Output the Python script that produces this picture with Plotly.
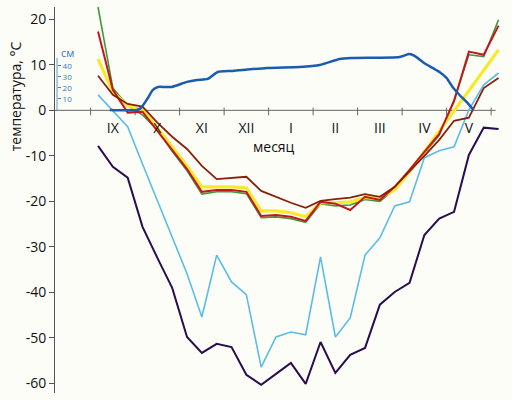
import plotly.graph_objects as go

# --- data -------------------------------------------------------------
months = ["IX", "X", "XI", "XII", "I", "II", "III", "IV", "V"]
month_centers = [1, 4, 7, 10, 13, 16, 19, 22, 25]          # in dekads
month_bounds = [-0.5, 2.5, 5.5, 8.5, 11.5, 14.5, 17.5, 20.5, 23.5, 26.5]
dekad = list(range(28))                                      # dekads from 1 Sep

green = [22.7, 4.9, 1.0, -1.0, -4.3, -9.0, -13.3, -18.4, -17.9, -17.9, -18.3, -23.6, -23.4, -23.8,
         -24.6, -20.5, -21.0, -20.8, -19.6, -20.0, -17.3, -13.3, -9.3, -5.5, 2.3, 12.2, 11.8, 19.9]
red = [17.3, 4.5, -0.5, -0.3, -4.5, -8.7, -12.9, -17.9, -17.5, -17.5, -17.9, -23.2, -23.0, -23.4,
       -24.3, -20.1, -20.5, -21.9, -19.0, -19.7, -16.8, -13.1, -9.1, -5.2, 2.0, 12.9, 12.2, 18.6]
yellow = [11.3, 4.0, 1.0, 0.1, -3.8, -8.0, -12.2, -16.8, -16.8, -16.8, -17.0, -22.1, -22.1, -22.5,
          -23.4, -20.3, -20.3, -20.1, -19.2, -19.2, -17.5, -13.5, -9.1, -4.5, -0.1, 4.3, 8.7, 13.3]
brown = [7.6, 3.4, 1.4, 0.8, -2.7, -5.8, -8.5, -12.2, -15.1, -14.8, -14.6, -17.7, -19.0, -20.3,
         -21.4, -19.9, -19.5, -19.2, -18.4, -19.0, -16.8, -13.5, -10.0, -6.5, -2.3, -1.6, 4.9, 7.1]
lightblue = [3.4, -0.1, -3.6, -11.8, -19.9, -27.8, -35.9, -45.4, -31.8, -37.7, -40.5, -56.4, -49.8, -48.7,
             -49.3, -32.2, -49.8, -45.6, -31.8, -28.0, -21.0, -20.1, -10.4, -8.9, -8.0, 0.1, 5.6, 8.2]
navy = [-7.8, -12.4, -14.8, -25.6, -32.4, -39.0, -49.8, -53.3, -51.3, -52.0, -58.1, -60.3, -57.9, -55.5,
        -60.1, -50.9, -57.7, -53.7, -52.2, -42.7, -39.9, -37.9, -27.4, -23.8, -22.3, -9.8, -3.8, -4.1]

snow_x = [0.8, 2.62, 2.89, 3.36, 3.70, 4.04, 4.51, 4.98, 5.99, 6.66, 7.40, 8.07, 9.08, 11.38, 13.60,
          14.95, 16.29, 17.17, 20.33, 21.00, 21.34, 22.0, 22.55, 23.02, 23.49, 23.90, 24.37, 24.84, 25.31]
snow_cm = [0, 0, 1.8, 10.9, 18.2, 20.9, 20.9, 20.9, 25.5, 27.3, 28.2, 34.5, 35.5, 38.2, 39.1,
           40.9, 46.4, 47.3, 48.2, 50.9, 49.1, 42.5, 38.2, 34.5, 29.1, 20.9, 13.6, 7.3, 0]

y_ticks = [20, 10, 0, -10, -20, -30, -40, -50, -60]
y_ticktext = ["20", "10", "0", "-10", "-20", "-30", "-40", "-50", "-60"]
cm_ticks = [10, 20, 30, 40]

# --- figure -----------------------------------------------------------
YMIN, YMAX = -62.1, 22.7
XMIN, XMAX = -2.9, 27.3
CM_MIN, CM_MAX = -257.3, 93.6
BG = "#fdfdf8"
FONT = "Open Sans"

fig = go.Figure()

def add(y, color, width):
    fig.add_trace(go.Scatter(x=dekad, y=y, mode="lines",
                             line=dict(color=color, width=width), hoverinfo="skip"))

add(navy, "#2a0d4e", 2)
add(lightblue, "#5bbde6", 1.6)
add(green, "#3a9a3a", 1.6)
add(yellow, "#f6ea2a", 3.2)
add(red, "#c4161c", 2)
add(brown, "#8a200c", 1.8)

fig.add_trace(go.Scatter(x=snow_x, y=snow_cm, mode="lines", yaxis="y2",
                         line=dict(color="#1a5cb0", width=2.5, shape="spline", smoothing=0.6),
                         hoverinfo="skip"))

zero_pos = (0 - YMIN) / (YMAX - YMIN)

fig.update_layout(
    width=512, height=400,
    margin=dict(l=55, r=9, t=7, b=7, autoexpand=False),
    paper_bgcolor=BG, plot_bgcolor=BG,
    showlegend=False,
    font=dict(family=FONT, size=14, color="#111"),
    xaxis=dict(range=[XMIN, XMAX], anchor="free", position=zero_pos, automargin=False,
               tickvals=month_centers, ticktext=months,
               ticks="outside", ticklen=5, tickcolor="rgba(0,0,0,0)",
               showline=False, showgrid=False, zeroline=False,
               tickfont=dict(size=14, family=FONT, color="#111")),
    yaxis=dict(range=[YMIN, YMAX], tickvals=y_ticks, ticktext=y_ticktext, automargin=False,
               ticks="outside", ticklen=5,
               tickcolor="#555", showline=True, linecolor="#555", linewidth=1,
               showgrid=False, zeroline=False,
               tickfont=dict(size=14, family=FONT, color="#111")),
    yaxis2=dict(range=[CM_MIN, CM_MAX], overlaying="y", anchor="free", position=0.0045,
                side="right", tickvals=cm_ticks, ticks="outside", ticklen=3, automargin=False,
                tickcolor="#3a80c4", showline=False, showgrid=False, zeroline=False,
                tickfont=dict(size=8, family=FONT, color="#2e78c0")),
)

# zero line (x axis through 0)
fig.add_shape(type="line", xref="x", yref="y", x0=XMIN, x1=26.8, y0=0, y1=0,
              line=dict(color="#666", width=1), layer="below")
# month boundary ticks on the zero line
for b in month_bounds:
    fig.add_shape(type="line", xref="x", yref="y", x0=b, x1=b, y0=0.6, y1=-1.1,
                  line=dict(color="#666", width=1), layer="below")
# small snow-depth axis
fig.add_shape(type="line", xref="paper", yref="y2", x0=0.0045, x1=0.0045, y0=0, y1=47.5,
              line=dict(color="#5a9ad4", width=1), layer="below")

fig.add_annotation(text="см", xref="paper", yref="y2", x=0.029, y=52.5, showarrow=False,
                   xanchor="center", yanchor="middle",
                   font=dict(size=11, family=FONT, color="#2e78c0"))
fig.add_annotation(text="месяц", xref="x", yref="y", x=11.85, y=-8.0, showarrow=False,
                   xanchor="center", yanchor="middle",
                   font=dict(size=14, family=FONT, color="#111"))
fig.add_annotation(text="температура, °С", xref="paper", yref="paper", x=-0.089, y=0.769,
                   xanchor="center", yanchor="middle",
                   textangle=-90, showarrow=False, font=dict(size=14, family=FONT, color="#111"))

fig.write_html("out.html", config={"displayModeBar": False},
               post_script="document.body.style.margin='0';document.body.style.background='%s';" % BG)
